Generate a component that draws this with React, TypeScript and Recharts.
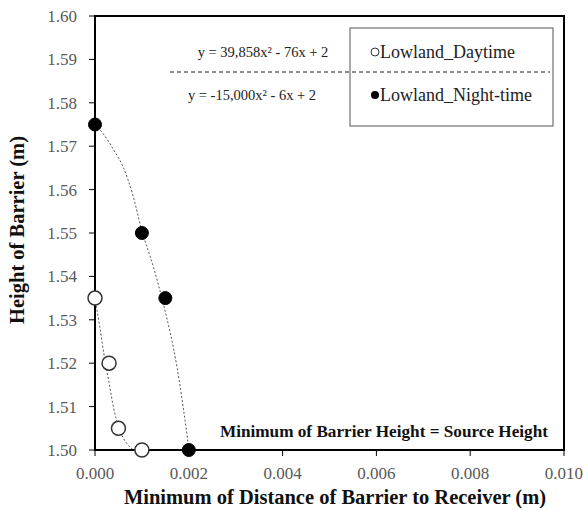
import React from "react";
import {
  ComposedChart,
  Scatter,
  Line,
  XAxis,
  YAxis,
  ReferenceArea,
  Customized,
} from "recharts";

const daytime = [
  { x: 0, y: 1.535 },
  { x: 0.0003, y: 1.52 },
  { x: 0.0005, y: 1.505 },
  { x: 0.001, y: 1.5 },
];

const nighttime = [
  { x: 0, y: 1.575 },
  { x: 0.001, y: 1.55 },
  { x: 0.0015, y: 1.535 },
  { x: 0.002, y: 1.5 },
];

// dashed trend curves
const dayTrend = [
  { x: 0, y: 1.535 },
  { x: 0.0001, y: 1.5285 },
  { x: 0.0002, y: 1.5215 },
  { x: 0.0003, y: 1.5155 },
  { x: 0.0004, y: 1.5095 },
  { x: 0.0005, y: 1.5055 },
  { x: 0.0006, y: 1.5028 },
  { x: 0.0007, y: 1.5012 },
  { x: 0.00082, y: 1.5 },
];

const nightTrend = [
  { x: 0, y: 1.575 },
  { x: 0.0002, y: 1.5725 },
  { x: 0.0004, y: 1.5691 },
  { x: 0.0006, y: 1.5652 },
  { x: 0.0008, y: 1.559 },
  { x: 0.001, y: 1.5505 },
  { x: 0.00125, y: 1.542 },
  { x: 0.00145, y: 1.534 },
  { x: 0.00175, y: 1.519 },
  { x: 0.002, y: 1.5005 },
];

const xTicks = [0, 0.002, 0.004, 0.006, 0.008, 0.01];
const yTicks = [1.5, 1.51, 1.52, 1.53, 1.54, 1.55, 1.56, 1.57, 1.58, 1.59, 1.6];

const seriesNames = ["Lowland_Daytime", "Lowland_Night-time"];
const equations = ["y = 39,858x\u00b2 - 76x + 2", "y = -15,000x\u00b2 - 6x + 2"];
const noteText = "Minimum of Barrier Height = Source Height";
const xTitle = "Minimum of Distance of Barrier to Receiver (m)";
const yTitle = "Height of Barrier (m)";

const FONT = "Liberation Serif";
const TICK_COLOR = "#595959";

const OpenDot = (props: any) => (
  <circle cx={props.cx} cy={props.cy} r={7} fill="#fff" stroke="#333" strokeWidth={1.5} />
);
const FilledDot = (props: any) => (
  <circle cx={props.cx} cy={props.cy} r={6.5} fill="#000" stroke="#000" strokeWidth={1} />
);

const Overlay = () => (
  <g>
    <text x={263} y={57} fontSize={14.5} fontFamily={FONT} textAnchor="middle" fill="#222">
      {equations[0]}
    </text>
    <text x={252} y={100} fontSize={14.5} fontFamily={FONT} textAnchor="middle" fill="#222">
      {equations[1]}
    </text>
    <line x1={170} y1={72} x2={550} y2={72} stroke="#222" strokeWidth={1} strokeDasharray="4 3" />
    <rect x={350} y={28} width={203} height={98} fill="none" stroke="#555" strokeWidth={1} />
    <circle cx={375} cy={52} r={4} fill="#fff" stroke="#333" strokeWidth={1} />
    <text x={380} y={58} fontSize={18} fontFamily={FONT} fill="#222">
      {seriesNames[0]}
    </text>
    <circle cx={375} cy={95} r={4} fill="#000" />
    <text x={380} y={101} fontSize={18} fontFamily={FONT} fill="#222">
      {seriesNames[1]}
    </text>
    <text
      x={548}
      y={437}
      fontSize={17.2}
      fontWeight="bold"
      fontFamily={FONT}
      textAnchor="end"
      fill="#111"
    >
      {noteText}
    </text>
    <text
      x={335}
      y={504}
      fontSize={20.5}
      fontWeight="bold"
      fontFamily={FONT}
      textAnchor="middle"
      fill="#111"
    >
      {xTitle}
    </text>
    <text
      x={24}
      y={230}
      fontSize={20.5}
      fontWeight="bold"
      fontFamily={FONT}
      textAnchor="middle"
      fill="#111"
      transform="rotate(-90 24 230)"
    >
      {yTitle}
    </text>
  </g>
);

export default function App() {
  return (
    <div style={{ position: "absolute", left: 0, top: 0, background: "#fff" }}>
      <ComposedChart
        width={583}
        height={511}
        margin={{ top: 16, right: 19, left: 35, bottom: 31 }}
      >
        <ReferenceArea
          x1={0}
          x2={0.01}
          y1={1.5}
          y2={1.6}
          fill="none"
          stroke="#000"
          strokeWidth={2}
          ifOverflow="visible"
        />
        <XAxis
          type="number"
          dataKey="x"
          domain={[0, 0.01]}
          ticks={xTicks}
          tickFormatter={(v: number) => v.toFixed(3)}
          axisLine={{ stroke: "#000", strokeWidth: 2 }}
          tickLine={{ stroke: "#000" }}
          tickSize={6}
          tickMargin={11}
          height={30}
          tick={{ fill: TICK_COLOR, fontSize: 17, fontFamily: FONT }}
        />
        <YAxis
          type="number"
          dataKey="y"
          domain={[1.5, 1.6]}
          ticks={yTicks}
          tickFormatter={(v: number) => v.toFixed(2)}
          axisLine={{ stroke: "#000", strokeWidth: 2 }}
          tickLine={{ stroke: "#000" }}
          tickSize={6}
          tickMargin={12}
          width={60}
          tick={{ fill: TICK_COLOR, fontSize: 17, fontFamily: FONT }}
        />
        <Line
          data={dayTrend}
          dataKey="y"
          type="monotone"
          stroke="#555"
          strokeWidth={1}
          strokeDasharray="2 2"
          dot={false}
          activeDot={false}
          isAnimationActive={false}
        />
        <Line
          data={nightTrend}
          dataKey="y"
          type="monotone"
          stroke="#555"
          strokeWidth={1}
          strokeDasharray="2 2"
          dot={false}
          activeDot={false}
          isAnimationActive={false}
        />
        <Scatter data={daytime} shape={<OpenDot />} isAnimationActive={false} />
        <Scatter data={nighttime} shape={<FilledDot />} isAnimationActive={false} />
        <Customized component={Overlay} />
      </ComposedChart>
    </div>
  );
}
